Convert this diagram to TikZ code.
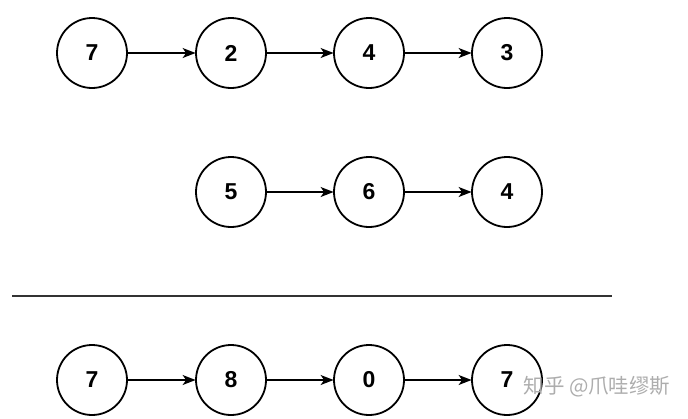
\documentclass[tikz,border=0pt]{standalone}
\usepackage{fontspec}
\setmainfont{Liberation Sans}
\newfontfamily\cjk{Noto Sans CJK SC}
\usetikzlibrary{arrows.meta}
\begin{document}
\begin{tikzpicture}[x=1pt,y=-1pt,
  listnode/.style={circle,draw=black,line width=1.8pt,minimum size=70pt,inner sep=0pt,font=\fontsize{23}{24}\selectfont\bfseries},
  link/.style={line width=1.4pt,-{Stealth[length=13pt,width=10pt,inset=3.5pt]},shorten >=-0.5pt}]
\useasboundingbox (0,0) rectangle (688,418);
\node[listnode] (a1) at (92,53) {7};
\node[listnode] (a2) at (231,53) {2};
\node[listnode] (a3) at (369,53) {4};
\node[listnode] (a4) at (507,53) {3};
\node[listnode] (b1) at (231,192) {5};
\node[listnode] (b2) at (369,192) {6};
\node[listnode] (b3) at (507,192) {4};
\node[listnode] (c1) at (92,380) {7};
\node[listnode] (c2) at (231,380) {8};
\node[listnode] (c3) at (369,380) {0};
\node[listnode] (c4) at (507,380) {7};
\draw[link] (a1) -- (a2);
\draw[link] (a2) -- (a3);
\draw[link] (a3) -- (a4);
\draw[link] (b1) -- (b2);
\draw[link] (b2) -- (b3);
\draw[link] (c1) -- (c2);
\draw[link] (c2) -- (c3);
\draw[link] (c3) -- (c4);
\coordinate (l1) at (12,296);
\coordinate (l2) at (612,296);
\draw[line width=2pt,black!80] (l1) -- (l2);
\node[font=\cjk\fontsize{20.5}{22}\selectfont,text=black!32,anchor=center] (wm) at (597,387) {知乎 @爪哇缪斯};
\end{tikzpicture}
\end{document}
